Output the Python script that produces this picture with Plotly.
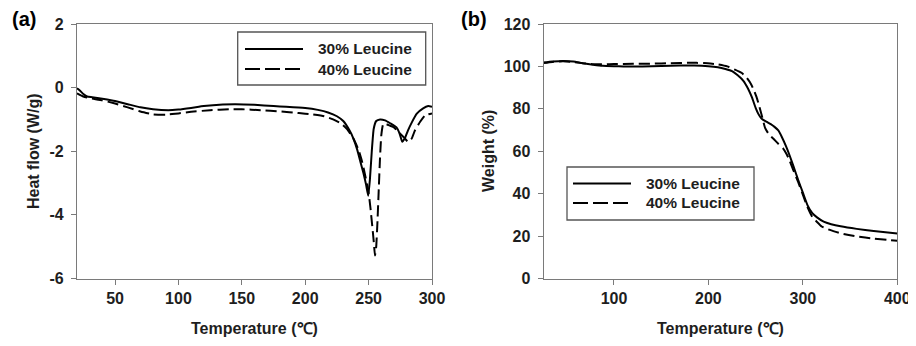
import plotly.graph_objects as go

# ---- Panel (a): DSC heat flow ----
dsc30_t = [20, 22, 25, 28, 32, 40, 50, 60, 70, 80, 92, 100, 110, 120, 135, 145, 160, 175, 185, 200,
           210, 218, 225, 230, 235, 238, 241, 244, 246, 248, 249.7, 251, 252.5, 254, 256, 259, 263,
           267, 272, 274.5, 276.5, 278.5, 281, 284, 288, 293, 297, 300]
dsc30_hf = [-0.02, -0.08, -0.2, -0.28, -0.3, -0.35, -0.42, -0.52, -0.62, -0.68, -0.71, -0.69, -0.64,
            -0.58, -0.53, -0.52, -0.54, -0.58, -0.6, -0.64, -0.7, -0.78, -0.9, -1.05, -1.35, -1.6,
            -1.95, -2.4, -2.7, -3.05, -3.4, -2.9, -2.0, -1.3, -1.05, -1.0, -1.03, -1.12, -1.25, -1.45,
            -1.7, -1.6, -1.35, -1.1, -0.82, -0.65, -0.58, -0.6]

dsc40_t = [20, 25, 30, 40, 50, 60, 70, 80, 90, 100, 110, 125, 140, 150, 165, 180, 195, 205, 215, 222,
           228, 233, 238, 242, 245, 247.5, 250, 251.5, 253, 254.2, 255, 256, 257, 258, 259, 260, 261.5,
           264, 267, 270, 273.5, 277.5, 281.3, 284, 286.6, 290.5, 294.5, 300]
dsc40_hf = [-0.18, -0.28, -0.33, -0.4, -0.5, -0.62, -0.75, -0.84, -0.85, -0.81, -0.76, -0.71, -0.68,
            -0.68, -0.71, -0.75, -0.8, -0.84, -0.9, -1.0, -1.12, -1.3, -1.6, -1.95, -2.35, -2.8, -3.3,
            -3.8, -4.4, -4.9, -5.28, -5.0, -4.2, -3.2, -2.2, -1.5, -1.15, -1.15, -1.2, -1.25, -1.39,
            -1.55, -1.71, -1.6, -1.34, -1.08, -0.87, -0.81]

# ---- Panel (b): TGA weight ----
tga30_t = [25, 35, 46, 57, 67, 78, 88, 100, 110, 130, 150, 170, 185, 200, 210, 218, 225, 231, 237, 242,
           246, 250, 253, 256, 258, 262, 266, 270, 274, 278, 282, 286, 290, 295, 300, 305, 310, 315, 322,
           330, 340, 357, 375, 390, 400]
tga30_w = [101.8, 102.3, 102.6, 102.3, 101.5, 100.8, 100.3, 100.1, 100.0, 100.0, 100.2, 100.4, 100.4,
           100.1, 99.6, 98.8, 97.8, 95.8, 93.2, 89.5, 85.5, 80.5, 77.5, 75.5, 74.8, 73.8, 72.8, 71.5,
           69.8, 66.5, 62.5, 58, 53, 46.5, 40.5, 34.5, 30.8, 28.8, 26.8, 25.6, 24.6, 23.4, 22.4, 21.7, 21.2]

tga40_t = [25, 35, 46, 57, 67, 78, 90, 100, 120, 140, 160, 180, 195, 210, 220, 228, 235, 240, 244, 248,
           251, 254, 257, 260, 264, 268.6, 274, 279, 283, 286, 290, 295, 300, 305, 310, 314.5, 320, 328.6,
           340, 357, 375, 390, 400]
tga40_w = [101.6, 102.1, 102.4, 102.1, 101.5, 101.0, 101.0, 101.1, 101.2, 101.3, 101.5, 101.7, 101.6,
           101.0, 100.0, 98.5, 97.0, 95, 92.5, 89, 85.5, 81, 76, 71, 68, 66, 63.5, 61.4, 58.5, 55.5, 51,
           45.5, 39.5, 33.5, 29, 26.9, 24.5, 22.9, 21.3, 19.8, 18.8, 18.2, 17.8]

series_names = ["30% Leucine", "40% Leucine"]

a_xticks = [50, 100, 150, 200, 250, 300]
a_yticks = [2, 0, -2, -4, -6]
a_yticktext = ["2", "0", "-2", "-4", "-6"]
b_xticks = [100, 200, 300, 400]
b_yticks = [0, 20, 40, 60, 80, 100, 120]

FONT = "Arial, Liberation Sans, sans-serif"
TXT = "#1e1e1e"
AX = "#7a7a7a"

# The page body adds an 8 px offset; the figure fills the rest of the 916x346 window.
W, H, OFF = 908, 338, 8


def fx(px):
    return (px - OFF) / W


def fy(py):
    return 1 - (py - OFF) / H


fig = go.Figure()
DASH = "11px,5px"
styles = [dict(color="black", width=2, dash="solid", shape="spline", smoothing=0.4),
          dict(color="black", width=2, dash=DASH, shape="spline", smoothing=0.4)]

fig.add_trace(go.Scatter(x=dsc30_t, y=dsc30_hf, mode="lines", line=styles[0], name=series_names[0],
                         xaxis="x", yaxis="y"))
fig.add_trace(go.Scatter(x=dsc40_t, y=dsc40_hf, mode="lines", line=styles[1], name=series_names[1],
                         xaxis="x", yaxis="y"))
fig.add_trace(go.Scatter(x=tga30_t, y=tga30_w, mode="lines", line=styles[0], name=series_names[0],
                         xaxis="x2", yaxis="y2"))
fig.add_trace(go.Scatter(x=tga40_t, y=tga40_w, mode="lines", line=styles[1], name=series_names[1],
                         xaxis="x2", yaxis="y2"))

tickfont = dict(family=FONT, size=16, color=TXT, weight="bold")
common_axis = dict(showline=True, linecolor=AX, linewidth=1.3, mirror=True, ticks="outside",
                   ticklen=5, tickcolor=AX, tickwidth=1.2, showgrid=False, zeroline=False,
                   tickfont=tickfont, automargin=False)

ydom = [fy(278.5), fy(24)]
fig.update_layout(
    width=W, height=H,
    margin=dict(l=0, r=0, t=0, b=0, pad=0, autoexpand=False),
    paper_bgcolor="white", plot_bgcolor="white",
    showlegend=False,
    xaxis=dict(domain=[fx(77), fx(432)], range=[20, 300], tickvals=a_xticks,
               anchor="y", ticklabelstandoff=0, **common_axis),
    yaxis=dict(domain=ydom, range=[-6, 2], tickvals=a_yticks, ticktext=a_yticktext,
               anchor="x", ticklabelstandoff=4, **common_axis),
    xaxis2=dict(domain=[fx(543.7), fx(897.3)], range=[25.6, 400], tickvals=b_xticks,
                anchor="y2", ticklabelstandoff=0, **common_axis),
    yaxis2=dict(domain=ydom, range=[0, 120], tickvals=b_yticks,
                anchor="x2", ticklabelstandoff=4, **common_axis),
)

# ---- Legend boxes (one per panel), styled like the original figure ----
legend_font = dict(family=FONT, size=15.5, color=TXT, weight="bold")
legend_boxes = [
    # box left, right, top, bottom, sample start, sample end, text start, first-row y, row gap
    dict(l=237.7, r=425.7, t=32, b=85, s0=245, s1=303, tx=316, y0=49, dy=20),
    dict(l=567, r=754, t=167, b=220, s0=573, s1=631, tx=644, y0=183.5, dy=19.5),
]
for box in legend_boxes:
    fig.add_shape(type="rect", xref="paper", yref="paper",
                  x0=fx(box["l"]), x1=fx(box["r"]), y0=fy(box["b"]), y1=fy(box["t"]),
                  line=dict(color="#555555", width=1.3), fillcolor="white", layer="above")
    for i, name in enumerate(series_names):
        yy = box["y0"] + i * box["dy"]
        fig.add_shape(type="line", xref="paper", yref="paper",
                      x0=fx(box["s0"]), x1=fx(box["s1"]), y0=fy(yy), y1=fy(yy),
                      line=dict(color="black", width=2,
                                dash="solid" if i == 0 else "15px,5px"),
                      layer="above")
        fig.add_annotation(text=name, x=fx(box["tx"]), y=fy(yy), xref="paper", yref="paper",
                           showarrow=False, font=legend_font, xanchor="left", yanchor="middle")

ann_font = dict(family=FONT, size=16, color=TXT, weight="bold")
fig.add_annotation(text="Temperature (℃)", x=fx((77 + 432) / 2), y=fy(328),
                   xref="paper", yref="paper", showarrow=False, font=ann_font,
                   xanchor="center", yanchor="middle")
fig.add_annotation(text="Temperature (℃)", x=fx((543.7 + 897.3) / 2), y=fy(328),
                   xref="paper", yref="paper", showarrow=False, font=ann_font,
                   xanchor="center", yanchor="middle")
fig.add_annotation(text="Heat flow (W/g)", x=fx(33), y=fy(151), textangle=-90,
                   xref="paper", yref="paper", showarrow=False, font=ann_font,
                   xanchor="center", yanchor="middle")
fig.add_annotation(text="Weight (%)", x=fx(488), y=fy(151), textangle=-90,
                   xref="paper", yref="paper", showarrow=False, font=ann_font,
                   xanchor="center", yanchor="middle")
panel_font = dict(family=FONT, size=20, color="black", weight="bold")
fig.add_annotation(text="(a)", x=fx(24), y=fy(19), xref="paper", yref="paper",
                   showarrow=False, font=panel_font, xanchor="center", yanchor="middle")
fig.add_annotation(text="(b)", x=fx(473.5), y=fy(19), xref="paper", yref="paper",
                   showarrow=False, font=panel_font, xanchor="center", yanchor="middle")

fig.write_html("out.html")
